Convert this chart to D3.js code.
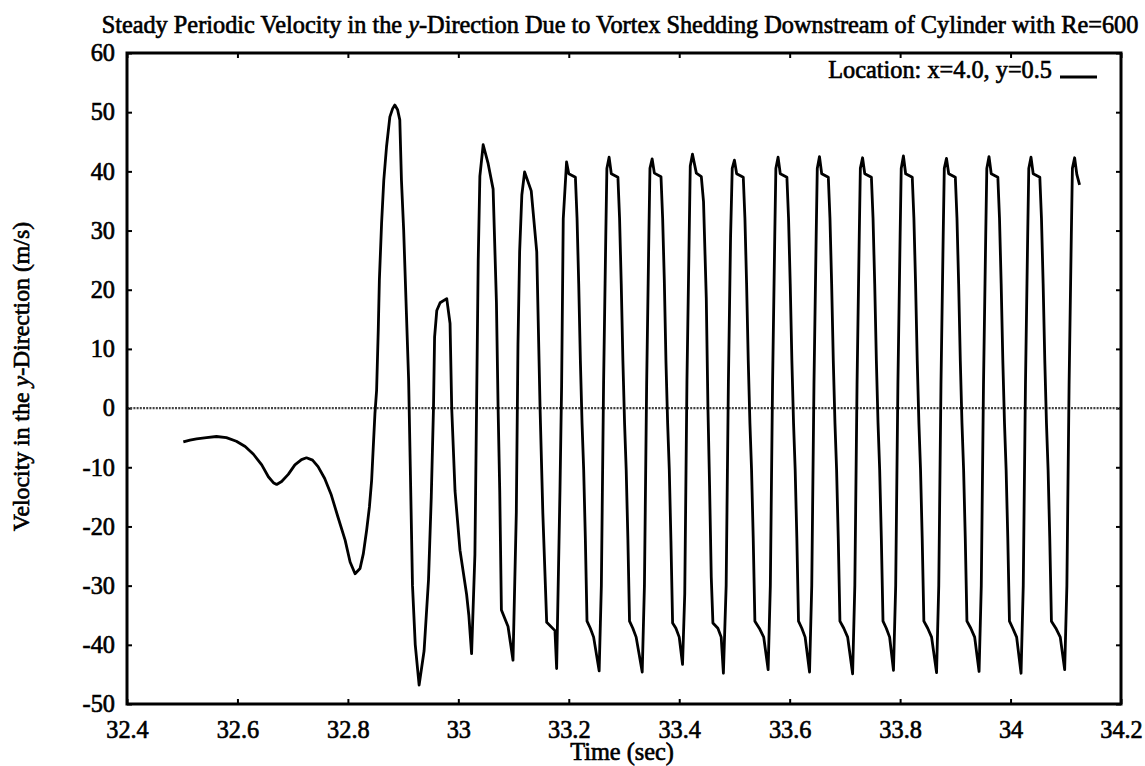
<!DOCTYPE html>
<meta charset="utf-8">
<script src="https://d3js.org/d3.v7.min.js"></script>
<style>
  body { margin: 0; background: #fff; }
  text { font-family: "Liberation Serif", "Times New Roman", serif; fill: #000; }
</style>

<div id="my_dataviz"></div>

<script>

// axis ticks
var xTicks = [32.4, 32.6, 32.8, 33.0, 33.2, 33.4, 33.6, 33.8, 34.0, 34.2];
var xTickLabels = ["32.4", "32.6", "32.8", "33", "33.2", "33.4", "33.6", "33.8", "34", "34.2"];
var yTicks = [-50, -40, -30, -20, -10, 0, 10, 20, 30, 40, 50, 60];
var yTickLabels = ["-50", "-40", "-30", "-20", "-10", "0", "10", "20", "30", "40", "50", "60"];

// start-up transient (sec, m/s)
var transientTime = [32.502, 32.514, 32.526, 32.544, 32.562, 32.580, 32.598, 32.614, 32.629, 32.644,
  32.656, 32.665, 32.671, 32.680, 32.692, 32.704, 32.716, 32.725, 32.736, 32.746,
  32.758, 32.770, 32.782, 32.795, 32.804, 32.813, 32.822, 32.828, 32.834, 32.839,
  32.843, 32.846, 32.849, 32.852, 32.855, 32.857, 32.861, 32.865, 32.870, 32.876,
  32.881, 32.885, 32.890, 32.894, 32.897, 32.901, 32.906, 32.910, 32.913, 32.917,
  32.922, 32.929, 32.938, 32.946, 32.951, 32.955, 32.957, 32.961, 32.967, 32.979,
  32.985, 32.988, 32.994, 33.003, 33.015, 33.019, 33.024, 33.030, 33.033, 33.036, 33.039];
var transientVel = [-5.7, -5.4, -5.2, -5.0, -4.8, -5.0, -5.6, -6.5, -7.8, -9.6,
  -11.6, -12.6, -12.9, -12.4, -11.2, -9.6, -8.7, -8.4, -8.8, -9.9,
  -11.9, -14.7, -18.4, -22.3, -26.0, -28.0, -27.1, -24.6, -20.6, -16.7,
  -12.2, -6.5, -0.9, 3.0, 13.2, 21.6, 31.2, 38.5, 44.2, 49.2,
  50.6, 51.2, 50.4, 48.7, 38.5, 30.1, 16.0, 4.7, -10.0, -30.0,
  -40.0, -46.8, -41.0, -29.0, -15.0, 0.0, 12.0, 16.5, 17.8, 18.5,
  14.3, 0.0, -14.0, -24.0, -31.5, -35.0, -41.5, -24.8, 0.0, 24.9, 39.2];

// periodic vortex shedding (sec, m/s)
var sheddingTime = [
  33.045, 33.054, 33.063, 33.069, 33.072, 33.075, 33.078, 33.090, 33.099, 33.105, 33.108, 33.111, 33.115,
  33.120, 33.132, 33.142, 33.148, 33.153, 33.160, 33.175, 33.178, 33.184, 33.187, 33.190,
  33.196, 33.200, 33.212, 33.215, 33.218, 33.221, 33.224, 33.227, 33.230, 33.233, 33.239, 33.245, 33.255, 33.259, 33.263, 33.267, 33.269,
  33.273, 33.277, 33.289, 33.292, 33.295, 33.298, 33.301, 33.304, 33.307, 33.310, 33.316, 33.322, 33.333, 33.337, 33.341, 33.345, 33.347,
  33.351, 33.355, 33.367, 33.370, 33.373, 33.376, 33.379, 33.382, 33.385, 33.388, 33.394, 33.400, 33.406, 33.410, 33.414, 33.418, 33.420,
  33.424, 33.431, 33.440, 33.444, 33.449, 33.452, 33.455, 33.458, 33.461, 33.470, 33.476, 33.480, 33.485, 33.489, 33.493, 33.496,
  33.500, 33.504, 33.516, 33.519, 33.522, 33.525, 33.528, 33.531, 33.534, 33.537, 33.545, 33.553, 33.561, 33.565, 33.569, 33.573, 33.575,
  33.579, 33.583, 33.595, 33.598, 33.601, 33.604, 33.607, 33.610, 33.613, 33.616, 33.622, 33.628, 33.636, 33.640, 33.644, 33.648, 33.650,
  33.654, 33.658, 33.670, 33.673, 33.676, 33.679, 33.682, 33.685, 33.688, 33.691, 33.698, 33.705, 33.714, 33.718, 33.722, 33.726, 33.728,
  33.732, 33.736, 33.748, 33.751, 33.754, 33.757, 33.760, 33.763, 33.766, 33.769, 33.775, 33.781, 33.788, 33.792, 33.796, 33.800, 33.802,
  33.806, 33.810, 33.822, 33.825, 33.828, 33.831, 33.834, 33.837, 33.840, 33.843, 33.850, 33.857, 33.866, 33.870, 33.874, 33.878, 33.880,
  33.884, 33.888, 33.900, 33.903, 33.906, 33.909, 33.912, 33.915, 33.918, 33.921, 33.928, 33.935, 33.943, 33.947, 33.951, 33.955, 33.957,
  33.961, 33.965, 33.977, 33.980, 33.983, 33.986, 33.989, 33.992, 33.995, 33.998, 34.004, 34.011, 34.019, 34.023, 34.027, 34.031, 34.033,
  34.037, 34.041, 34.053, 34.056, 34.059, 34.062, 34.065, 34.068, 34.071, 34.074, 34.082, 34.090, 34.098, 34.102, 34.106, 34.110, 34.112,
  34.116, 34.120, 34.125];
var sheddingVel = [
  44.5, 41.3, 37.0, 17.8, 0.0, -14.2, -34.1, -36.9, -42.6, -17.7, 10.7, 26.4, 36.0,
  39.9, 36.7, 26.4, 0.0, -17.7, -36.2, -37.6, -44.0, -14.2, 3.6, 32.0,
  41.6, 39.6, 39.0, 32.0, 21.0, 8.0, -2.5, -10.5, -22.0, -36.0, -37.2, -38.7, -44.4, -30.0, 4.0, 29.0, 40.5,
  42.4, 39.6, 39.0, 32.0, 21.0, 8.0, -2.5, -10.5, -22.0, -36.0, -37.2, -38.7, -44.6, -30.0, 4.0, 29.0, 40.5,
  42.1, 39.7, 39.1, 32.0, 21.6, 7.8, -2.5, -10.4, -22.4, -36.3, -37.2, -38.7, -43.3, -31.4, 4.7, 28.9, 40.9,
  42.9, 39.7, 39.1, 34.9, 18.6, 0.0, -13.3, -28.5, -36.3, -37.2, -38.7, -44.8, -30.0, 4.0, 29.0, 40.5,
  41.9, 39.6, 39.0, 32.0, 21.0, 8.0, -2.5, -10.5, -22.0, -36.0, -37.2, -38.7, -44.2, -30.0, 4.0, 29.0, 40.5,
  42.4, 39.6, 39.0, 32.0, 21.0, 8.0, -2.5, -10.5, -22.0, -36.0, -37.2, -38.7, -44.6, -30.0, 4.0, 29.0, 40.5,
  42.5, 39.6, 39.0, 32.0, 21.0, 8.0, -2.5, -10.5, -22.0, -36.0, -37.2, -38.7, -44.9, -30.0, 4.0, 29.0, 40.5,
  42.3, 39.6, 39.0, 32.0, 21.0, 8.0, -2.5, -10.5, -22.0, -36.0, -37.2, -38.7, -44.3, -30.0, 4.0, 29.0, 40.5,
  42.6, 39.6, 39.0, 32.0, 21.0, 8.0, -2.5, -10.5, -22.0, -36.0, -37.2, -38.7, -44.7, -30.0, 4.0, 29.0, 40.5,
  42.2, 39.6, 39.0, 32.0, 21.0, 8.0, -2.5, -10.5, -22.0, -36.0, -37.2, -38.7, -44.5, -30.0, 4.0, 29.0, 40.5,
  42.5, 39.6, 39.0, 32.0, 21.0, 8.0, -2.5, -10.5, -22.0, -36.0, -37.2, -38.7, -44.8, -30.0, 4.0, 29.0, 40.5,
  42.4, 39.6, 39.0, 32.0, 21.0, 8.0, -2.5, -10.5, -22.0, -36.0, -37.2, -38.7, -44.2, -30.0, 4.0, 29.0, 40.5,
  42.3, 39.5, 37.7];

var allVel = transientVel.concat(sheddingVel);
var data = transientTime.concat(sheddingTime).map(function (t, i) {
  return { t: t, v: allVel[i] };
});

// dimensions
var margin = {top: 53, right: 24, bottom: 62, left: 127},
    width = 1145 - margin.left - margin.right,
    height = 766 - margin.top - margin.bottom;

var svg = d3.select("#my_dataviz")
  .append("svg")
    .attr("width", 1145)
    .attr("height", 766)
  .append("g")
    .attr("transform", "translate(" + margin.left + "," + margin.top + ")");

var x = d3.scaleLinear().domain([32.4, 34.2]).range([0, width]);
var y = d3.scaleLinear().domain([-50, 60]).range([height, 0]);

var serif = "'Liberation Serif', 'Times New Roman', serif";
var fontSize = "24.3px";
var textStroke = 0.65;

// x axis (bottom with labels, top mirrored)
svg.append("g")
  .attr("transform", "translate(0," + height + ")")
  .call(d3.axisBottom(x).tickValues(xTicks).tickSize(-5).tickPadding(17)
    .tickFormat(function (d, i) { return xTickLabels[i]; }));
svg.append("g")
  .call(d3.axisTop(x).tickValues(xTicks).tickSize(-5).tickFormat(""));

// y axis (left with labels, right mirrored)
svg.append("g")
  .call(d3.axisLeft(y).tickValues(yTicks).tickSize(-5).tickPadding(12)
    .tickFormat(function (d, i) { return yTickLabels[i]; }));
svg.append("g")
  .attr("transform", "translate(" + width + ",0)")
  .call(d3.axisRight(y).tickValues(yTicks).tickSize(-5).tickFormat(""));

svg.selectAll(".domain").remove();
svg.selectAll(".tick line").attr("stroke", "#000").attr("stroke-width", 2);
svg.selectAll(".tick text")
  .attr("font-family", serif)
  .attr("font-size", fontSize)
  .attr("stroke", "#000").attr("stroke-width", textStroke);

// zero axis
svg.append("line")
  .attr("x1", 0).attr("x2", width)
  .attr("y1", y(0)).attr("y2", y(0))
  .attr("stroke", "#444")
  .attr("stroke-width", 2.2)
  .attr("stroke-dasharray", "2,1.2");

// data line
var line = d3.line()
  .x(function (d) { return x(d.t); })
  .y(function (d) { return y(d.v); });

svg.append("path")
  .datum(data)
  .attr("fill", "none")
  .attr("stroke", "#000")
  .attr("stroke-width", 2.8)
  .attr("stroke-linejoin", "round")
  .attr("d", line);

// frame
svg.append("rect")
  .attr("width", width).attr("height", height)
  .attr("fill", "none").attr("stroke", "#000").attr("stroke-width", 3);

function label(sel, size) {
  return sel.attr("font-family", serif).attr("font-size", size || fontSize)
    .attr("stroke", "#000").attr("stroke-width", textStroke);
}

// legend
svg.append("text")
  .attr("x", 925).attr("y", 25)
  .attr("text-anchor", "end")
  .call(label)
  .text("Location: x=4.0, y=0.5");
svg.append("line")
  .attr("x1", 933).attr("x2", 970)
  .attr("y1", 24).attr("y2", 24)
  .attr("stroke", "#000").attr("stroke-width", 3);

// title
var title = svg.append("text")
  .attr("x", width / 2 - 4).attr("y", -20)
  .attr("text-anchor", "middle")
  .call(label);
title.append("tspan").text("Steady Periodic Velocity in the ");
title.append("tspan").style("font-style", "italic").text("y");
title.append("tspan").text("-Direction Due to Vortex Shedding Downstream of Cylinder with Re=600");

// x label
svg.append("text")
  .attr("x", width / 2 - 2).attr("y", height + 56)
  .attr("text-anchor", "middle")
  .call(label)
  .text("Time (sec)");

// y label
var ylab = svg.append("text")
  .attr("transform", "translate(-98," + (height / 2 - 2) + ") rotate(-90)")
  .attr("text-anchor", "middle")
  .call(label, "23.8px");
ylab.append("tspan").text("Velocity in the ");
ylab.append("tspan").style("font-style", "italic").text("y");
ylab.append("tspan").text("-Direction (m/s)");

</script>
